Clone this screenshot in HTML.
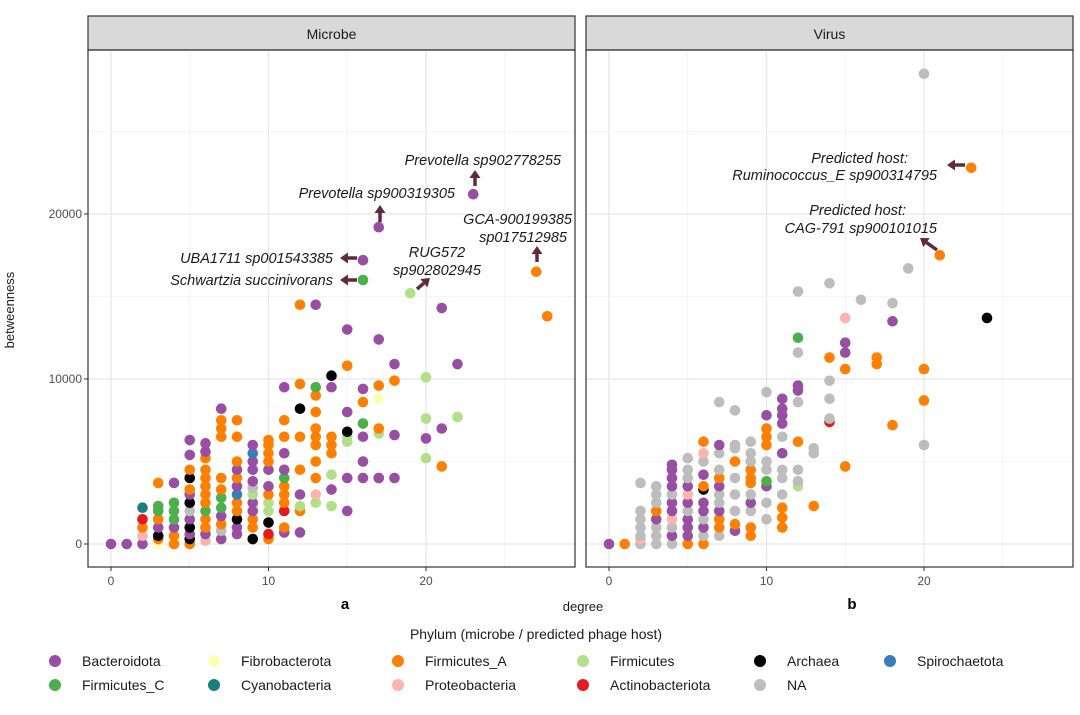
<!DOCTYPE html>
<html><head><meta charset="utf-8"><style>
body{margin:0;background:#fff;font-family:"Liberation Sans",sans-serif;}
</style></head><body>
<svg id="chart" width="1080" height="710" xmlns="http://www.w3.org/2000/svg" font-family="Liberation Sans, sans-serif"></svg>
<script>
const phylaNames=["Bacteroidota","Firmicutes_C","Fibrobacterota","Cyanobacteria","Firmicutes_A","Proteobacteria","Firmicutes","Actinobacteriota","Archaea","NA","Spirochaetota"];
const phylaCodes=["B","C","Y","T","A","P","F","R","K","N","S"];
const phylaColors=["#984ea3","#4daf4a","#ffffb3","#1b7d7d","#ff7f00","#fbb4ae","#b2df8a","#e41a1c","#000000","#bdbdbd","#377eb8"];
const xTicks=[0,10,20];
const yTicks=[0,10000,20000];
// microbe: degree : betweenness(thousands)+phylum code
const microbeData="0:0B|1:0B|2:0B,0.5P,1.0A,1.5R,2.2T|3:0Y,0.3A,0.5K,1.0B,1.5A,2.0C,2.3C,3.7A|4:0A,0.5A,1.0B,1.5C,2.0C,2.5C,3.7B|5:0A,0.3K,0.6B,1.0K,1.5B,2.0N,2.5K,3.0B,3.3A,4.0K,4.5A,5.4B,6.3B|6:0.2P,0.6B,1.0A,1.5A,2.0C,2.5A,3.0A,3.5A,4.0A,4.5A,5.2A,5.6B,6.1B|7:0.3B,0.8N,1.2A,1.7B,2.2C,2.8C,3.3A,4.0A,6.5A,7.0A,7.5A,8.2B|8:0.6B,1.0B,1.5K,2.0A,2.5A,3.0S,3.5B,4.0A,4.5B,5.0A,6.5A,7.5A|9:0.3K,1.0A,1.5A,2.0B,2.5B,3.0F,3.4N,3.8B,4.5B,5.0B,5.5S,6.0B|10:0.3A,0.6R,1.3K,2.0F,2.5F,3.0A,3.5B,4.5B,5.0A,5.5A,6.0A,6.3A|11:0.7B,1.0A,2.0R,2.5A,3.0A,3.5A,4.0C,4.5B,5.5B,6.5A,7.5A,9.5B|12:0.7B,2.0A,2.3F,3.0B,4.5A,6.5A,8.2K,9.7A,14.5A|13:2.5F,3.0P,4.0A,5.0A,6.0A,6.5A,7.0A,8.0A,9.0A,9.5C,14.5B|14:2.3F,3.3B,4.2F,5.5A,6.0A,6.5A,9.5B,10.2K|15:2.0B,4.0B,6.2F,6.5F,6.8K,8.0B,10.8A,13.0B|16:4.0B,5.0B,6.5B,7.3C,8.6A,9.4B,16.0C,17.2B|17:4.0A,4.0B,6.7F,7.0A,8.8Y,9.6A,12.4B,19.2B|18:4.0B,6.6B,9.9A,10.9B|19:15.2F|20:5.2F,6.4B,7.6F,10.1F|21:4.7A,7.0B,14.3B|22:7.7F,10.9B|23:21.2B|27:16.5A|27.7:13.8A";
const virusData="0:0B|1:0A|2:0N,0.3P,0.5N,1.0N,1.5N,2.0N,3.7N|3:0N,0.5N,1.0N,1.5B,2.0A,2.5N,3.0N,3.5N|4:0N,0.5B,1.0N,1.5P,2.0B,2.5B,3.0N,3.5B,4.0B,4.5B,4.8B|5:0A,0.5B,1.0B,1.5B,2.0N,2.5B,3.0P,3.5B,4.0N,4.5N,5.2N|6:0A,0.5N,1.0B,1.5N,2.0B,2.5B,3.3K,3.5A,4.2B,5.0N,5.5P,6.2A|7:0.5N,1.0A,1.5A,2.0B,2.5N,3.0N,3.5B,4.0A,4.5N,5.5N,6.0B,8.6N|8:0.8B,1.2A,2.0N,3.0N,4.0N,5.0A,5.8N,6.0N,8.1N|9:0.5A,1.0A,2.0N,2.5B,3.0N,3.7A,4.0A,4.5A,5.0N,5.5N,6.2N|10:1.5N,2.5N,3.5B,3.8C,4.5N,5.0N,6.0A,6.5A,7.0A,7.8B,9.2N|11:1.0A,1.6A,2.2A,3.0N,4.0N,4.5N,5.5B,6.5N,7.3B,7.8B,8.2B,8.8B|12:3.5F,3.8N,4.5N,6.2A,8.6N,9.3B,9.6B,11.6N,12.5C,15.3N|13:2.3A,5.5N,5.8N|14:7.4R,7.6N,8.8N,9.9N,11.3A,15.8N|15:4.7A,10.6A,11.6B,12.2B,13.7P|16:14.8N|17:10.9A,11.3A|18:7.2A,13.5B,14.6N|19:16.7N|20:6.0N,8.7A,10.6A,28.5N|21:17.5A|23:22.8A|24:13.7K";

const NS="http://www.w3.org/2000/svg";
const svg=document.getElementById('chart');
function mk(tag,attrs,parent){const e=document.createElementNS(NS,tag);for(const k in attrs)e.setAttribute(k,attrs[k]);(parent||svg).appendChild(e);return e;}
function parse(s){const out=[];s.split('|').forEach(g=>{const [d,vals]=g.split(':');vals.split(',').forEach(v=>{out.push({x:+d,y:parseFloat(v)*1000,c:v.slice(-1)});});});return out;}
const panels=[{name:"Microbe",x0:88,data:parse(microbeData),tag:"a"},{name:"Virus",x0:586,data:parse(virusData),tag:"b"}];
const PW=487,plotTop=50,plotBot=567;
const xMin=-1.46,xMax=29.46,yMin=-1394,yMax=29939;
panels.forEach((p,pi)=>{
  const sx=v=>p.x0+(v-xMin)/(xMax-xMin)*PW;
  const sy=v=>plotBot-(v-yMin)/(yMax-yMin)*(plotBot-plotTop);
  const g=mk('g',{});
  
  
  const strip=mk('rect',{x:p.x0,y:16,width:PW,height:34,fill:'#d9d9d9',stroke:'#333','stroke-width':1.2},g);
  
  
  const st=mk('text',{x:p.x0+PW/2,y:39,'text-anchor':'middle','font-size':14,fill:'#1a1a1a'},g);st.textContent=p.name;
  
  
  for(let v=0;v<=25;v+=5){mk('line',{x1:sx(v),x2:sx(v),y1:plotTop,y2:plotBot,stroke:v%10==0?'#e6e6e6':'#f2f2f2','stroke-width':v%10==0?1.3:0.8},g);}
  for(let v=0;v<=25000;v+=5000){mk('line',{x1:p.x0,x2:p.x0+PW,y1:sy(v),y2:sy(v),stroke:v%10000==0?'#e6e6e6':'#f2f2f2','stroke-width':v%10000==0?1.3:0.8},g);}
  p.data.forEach(d=>{const i=phylaCodes.indexOf(d.c);
    const c=mk('circle',{cx:sx(d.x),cy:sy(d.y),r:5.3,fill:phylaColors[i]},g);
    
    });
  mk('rect',{x:p.x0,y:plotTop,width:PW,height:plotBot-plotTop,fill:'none',stroke:'#333','stroke-width':1.2},g);
  xTicks.forEach(t=>{mk('line',{x1:sx(t),x2:sx(t),y1:plotBot,y2:plotBot+4,stroke:'#333'},g);
    const tl=mk('text',{x:sx(t),y:plotBot+18,'text-anchor':'middle','font-size':12,fill:'#4d4d4d'},g);tl.textContent=t;
    
    });
  if(pi==0){yTicks.forEach(t=>{mk('line',{x1:p.x0-4,x2:p.x0,y1:sy(t),y2:sy(t),stroke:'#333'},g);
    const tl=mk('text',{x:p.x0-6,y:sy(t)+4,'text-anchor':'end','font-size':12,fill:'#4d4d4d'},g);tl.textContent=t;
    
    });}
  const tg=mk('text',{x:pi==0?345:852,y:609,'text-anchor':'middle','font-size':15,'font-weight':'bold',fill:'#000'},g);tg.textContent=p.tag;
  
  
});
// annotations
const ann=[["Prevotella sp902778255",561,165],["Prevotella sp900319305",455,198],["GCA-900199385",572,224],["sp017512985",567,242],["UBA1711 sp001543385",333,263],["Schwartzia succinivorans",333,285],["RUG572",437,257],["sp902802945",437,275],["Predicted host:",908,163],["Ruminococcus_E sp900314795",937,180],["Predicted host:",906,215],["CAG-791 sp900101015",937,233]];
ann.forEach(a=>{const t=mk('text',{x:a[1],y:a[2],'text-anchor':a[0]=="RUG572"||a[0]=="sp902802945"?'middle':'end','font-size':14.5,'font-style':'italic',fill:'#1a1a1a'});t.textContent=a[0];
  
  });
const arrows=[[475,186,475,170],[380,222,380,205],[537,262,537,246],[357,258,340,258],[357,280,340,280],[417,289,430,278],[965,165,947,165],[937,250,920,238]];
arrows.forEach(a=>{const dx=a[2]-a[0],dy=a[3]-a[1],L=Math.hypot(dx,dy),ux=dx/L,uy=dy/L,px=-uy,py=ux;
  const bx=a[2]-ux*8,by=a[3]-uy*8;
  const l=mk('line',{x1:a[0],y1:a[1],x2:bx,y2:by,stroke:'#5e2a3c','stroke-width':3.5});
  
  
  mk('polygon',{points:`${a[2]},${a[3]} ${bx+px*5.5},${by+py*5.5} ${bx-px*5.5},${by-py*5.5}`,fill:'#5e2a3c'});});
// axis titles
let t=mk('text',{x:583,y:611,'text-anchor':'middle','font-size':13,fill:'#1a1a1a'});t.textContent='degree';


t=mk('text',{x:0,y:0,'text-anchor':'middle','font-size':13,fill:'#1a1a1a',transform:'translate(14,310) rotate(-90)'});t.textContent='betweenness';


t=mk('text',{x:536,y:639,'text-anchor':'middle','font-size':14,fill:'#1a1a1a'});t.textContent='Phylum (microbe / predicted phage host)';


const legOrder=[[0,55,661],[1,55,685],[2,214,661],[3,214,685],[4,398,661],[5,398,685],[6,583,661],[7,583,685],[8,760,661],[9,760,685],[10,890,661]];
legOrder.forEach(l=>{const g=mk('g',{});
  
  
  mk('circle',{cx:l[1],cy:l[2],r:6,fill:phylaColors[l[0]]},g);
  const tx=mk('text',{x:l[1]+27,y:l[2]+5,'font-size':14,fill:'#1a1a1a'},g);tx.textContent=phylaNames[l[0]];});
</script>
</body></html>
